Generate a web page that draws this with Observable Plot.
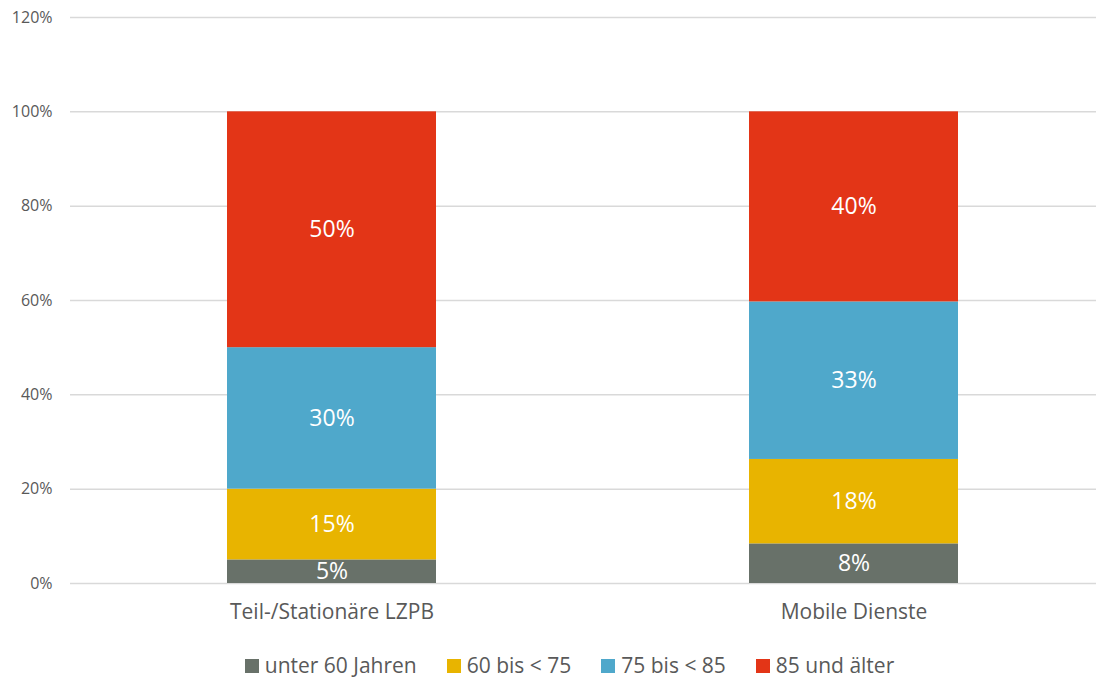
<!DOCTYPE html>
<html>
<head>
<meta charset="utf-8">
<script src="https://cdn.jsdelivr.net/npm/d3@7"></script>
<script src="https://cdn.jsdelivr.net/npm/@observablehq/plot@0.6"></script>
<style>
  body { margin: 0; background: #fff; font-family: "Open Sans", "Noto Sans", sans-serif; }
  #chart { width: 1106px; }
  .legend { display: flex; justify-content: center; margin-top: 21px; padding-left: 33px; font-size: 21px; line-height: 29px; color: #595959; }
  .legend .item { display: flex; align-items: center; margin: 0 15px; }
  .legend .sw { width: 14px; height: 14px; margin-right: 6px; }
</style>
</head>
<body>
<div id="chart"></div>
<script>
const categories = ["Teil-/Stationäre LZPB", "Mobile Dienste"];
const groups = ["unter 60 Jahren", "60 bis < 75", "75 bis < 85", "85 und älter"];
const colors = ["#687169", "#E8B400", "#4FA8CB", "#E33517"];
const valuesLZPB = [5, 15, 30, 50];
const valuesMobile = [8.4, 17.9, 33.4, 40.3];
const yTicks = [0, 20, 40, 60, 80, 100, 120];

const data = [];
[valuesLZPB, valuesMobile].forEach((vals, ci) => {
  vals.forEach((v, gi) => data.push({cat: categories[ci], group: groups[gi], value: v}));
});

const plot = Plot.plot({
  width: 1106,
  height: 630,
  marginTop: 17,
  marginBottom: 47,
  marginLeft: 70,
  marginRight: 10,
  style: {fontFamily: '"Open Sans", "Noto Sans", sans-serif', color: "#595959", background: "#fff"},
  x: {domain: categories, range: [226, 958], paddingInner: 0.6, paddingOuter: 0, label: null},
  y: {domain: [0, 120], label: null},
  color: {domain: groups, range: colors},
  marks: [
    Plot.ruleY(yTicks, {stroke: "#d9d9d9", strokeWidth: 1.5}),
    Plot.axisY({ticks: yTicks, tickFormat: d => d + "%", tickSize: 0, tickPadding: 18, fontSize: 16, fill: "#595959", label: null}),
    Plot.axisX({tickSize: 0, tickPadding: 21, fontSize: 21, fill: "#595959", label: null}),
    Plot.barY(data, {x: "cat", y: "value", z: "group", fill: "group"}),
    Plot.text(data, Plot.stackY({x: "cat", y: "value", z: "group", text: d => Math.round(d.value) + "%", fill: "white", fontSize: 23})),
  ]
});
document.getElementById("chart").appendChild(plot);

const leg = document.createElement("div");
leg.className = "legend";
groups.forEach((g, i) => {
  const it = document.createElement("div");
  it.className = "item";
  const sw = document.createElement("span");
  sw.className = "sw";
  sw.style.background = colors[i];
  const t = document.createElement("span");
  t.textContent = g;
  it.appendChild(sw); it.appendChild(t);
  leg.appendChild(it);
});
document.getElementById("chart").appendChild(leg);
</script>
</body>
</html>
